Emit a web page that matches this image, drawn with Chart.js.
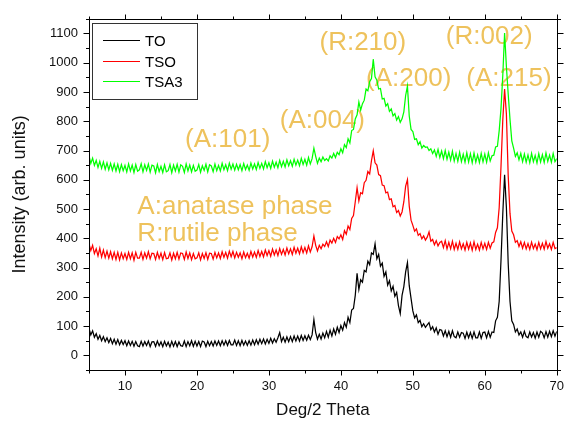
<!DOCTYPE html>
<html><head><meta charset="utf-8">
<script src="https://cdn.jsdelivr.net/npm/chart.js@4.4.0/dist/chart.umd.min.js"></script>
<style>html,body{margin:0;padding:0;background:#fff;}#wrap{width:573px;height:421px;}</style>
</head><body><div id="wrap"><canvas id="c" width="573" height="421"></canvas></div>
<script>
// 2-theta sampling grid (deg)
const twoTheta = [
5,5.25,5.5,5.75, 6,6.25,6.5,6.75, 7,7.25,7.5,7.75, 8,8.25,8.5,8.75, 9,9.25,9.5,9.75,
10,10.25,10.5,10.75, 11,11.25,11.5,11.75, 12,12.25,12.5,12.75, 13,13.25,13.5,13.75, 14,14.25,14.5,14.75,
15,15.25,15.5,15.75, 16,16.25,16.5,16.75, 17,17.25,17.5,17.75, 18,18.25,18.5,18.75, 19,19.25,19.5,19.75,
20,20.25,20.5,20.75, 21,21.25,21.5,21.75, 22,22.25,22.5,22.75, 23,23.25,23.5,23.75, 24,24.25,24.5,24.75,
25,25.25,25.5,25.75, 26,26.25,26.5,26.75, 27,27.25,27.5,27.75, 28,28.25,28.5,28.75, 29,29.25,29.5,29.75,
30,30.25,30.5,30.75, 31,31.25,31.5,31.75, 32,32.25,32.5,32.75, 33,33.25,33.5,33.75, 34,34.25,34.5,34.75,
35,35.25,35.5,35.75, 36,36.25,36.5,36.75, 37,37.25,37.5,37.75, 38,38.25,38.5,38.75, 39,39.25,39.5,39.75,
40,40.25,40.5,40.75, 41,41.25,41.5,41.75, 42,42.25,42.5,42.75, 43,43.25,43.5,43.75, 44,44.25,44.5,44.75,
45,45.25,45.5,45.75, 46,46.25,46.5,46.75, 47,47.25,47.5,47.75, 48,48.25,48.5,48.75, 49,49.25,49.5,49.75,
50,50.25,50.5,50.75, 51,51.25,51.5,51.75, 52,52.25,52.5,52.75, 53,53.25,53.5,53.75, 54,54.25,54.5,54.75,
55,55.25,55.5,55.75, 56,56.25,56.5,56.75, 57,57.25,57.5,57.75, 58,58.25,58.5,58.75, 59,59.25,59.5,59.75,
60,60.25,60.5,60.75, 61,61.25,61.5,61.75, 62,62.25,62.5,62.75, 63,63.25,63.5,63.75, 64,64.25,64.5,64.75,
65,65.25,65.5,65.75, 66,66.25,66.5,66.75, 67,67.25,67.5,67.75, 68,68.25,68.5,68.75, 69,69.25,69.5,69.75,
70];

const seriesNames = ['TO', 'TSO', 'TSA3'];

const TO = [
92,70,84,62, 74,55,68,50, 64,47,60,44, 58,40,55,38, 54,36,51,37,
50,33,49,34, 48,31,47,33, 30,48,32,47, 34,49,30,46, 47,31,49,33,
46,30,48,32, 45,29,48,31, 47,30,46,33, 31,49,30,47, 33,50,31,48,
32,47,30,49, 46,30,48,33, 47,32,49,34, 49,33,50,35, 50,34,51,36,
36,52,34,50, 33,51,35,49, 34,50,35,52, 36,53,38,55, 40,56,39,55,
41,58,42,57, 45,60,78,47, 62,45,63,47, 64,47,66,49, 66,49,68,51,
67,52,69,54, 70,122,78,55, 72,56,76,60, 82,62,86,66, 90,72,96,78,
102,86,112,96, 130,112,155,160, 205,280,225,258, 250,290,285,322, 310,350,345,381,
330,345,305,315, 270,285,240,255, 220,236,202,215, 170,143,205,235, 285,317,238,195,
152,128,138,112, 120,98,108,96, 104,112,88,98, 80,94,72,88, 86,66,84,64,
82,62,84,64, 60,80,62,78, 76,58,79,60, 78,58,80,60, 60,80,58,78,
80,60,82,62, 80,78,118,130, 185,325,485,617, 505,315,185,118, 106,80,90,70,
80,62,82,64, 60,80,63,78, 59,80,62,82, 77,60,81,62, 82,64,84,66,
82];

const TSO = [
382,358,376,348, 364,340,366,336, 360,334,356,332, 354,330,352,328, 352,326,350,330,
348,328,352,330, 350,325,352,332, 332,352,328,350, 332,354,330,349, 348,328,352,331,
349,327,351,330, 332,350,326,349, 330,352,329,350, 348,328,353,331, 350,327,348,330,
333,350,326,348, 331,351,328,349, 348,329,352,333, 350,331,354,335, 352,332,356,337,
355,333,352,335, 350,330,353,334, 349,332,355,336, 353,335,358,338, 355,337,360,341,
358,339,363,343, 360,341,365,345, 362,343,367,347, 364,345,369,349, 366,347,371,351,
369,350,374,353, 371,408,376,357, 376,364,380,372, 388,372,394,384, 400,386,406,398,
412,396,426,414, 442,430,468,478, 525,573,528,556, 552,590,598,628, 620,665,699,658,
650,618,614,582, 580,555,558,532, 535,508,512,488, 495,476,490,525, 578,600,510,462,
444,424,432,410, 416,398,408,394, 404,422,390,396, 378,392,374,386, 390,368,392,364,
386,364,390,362, 383,362,388,364, 381,360,386,363, 384,359,388,362, 380,360,386,364,
383,362,386,366, 384,388,420,436, 505,645,805,910, 825,615,485,425, 412,386,392,372,
388,366,386,364, 382,362,387,365, 380,361,386,364, 383,363,389,366, 381,362,386,365,
368];

const TSA3 = [
682,656,674,649, 666,642,663,639, 661,636,658,634, 656,632,654,630, 653,628,652,631,
649,627,654,630, 650,625,652,629, 634,655,627,651, 632,654,626,650, 647,624,652,628,
646,625,651,627, 631,652,624,650, 630,653,626,651, 646,625,654,630, 650,627,649,629,
633,652,626,648, 632,653,627,651, 647,628,654,631, 649,630,656,634, 651,631,657,636,
654,633,653,634, 652,631,655,635, 650,632,657,637, 654,635,659,639, 656,637,662,641,
658,639,664,643, 660,641,666,645, 663,644,668,648, 665,646,670,650, 667,648,673,652,
670,650,676,654, 672,708,680,656, 674,662,678,666, 672,664,682,674, 690,676,694,686,
706,692,720,710, 740,726,768,772, 808,822,866,838, 860,872,910,904, 935,946,1012,952,
940,910,912,876, 878,852,860,834, 842,818,826,804, 816,796,808,832, 888,920,818,772,
765,738,740,720, 730,708,717,711, 712,700,706,690, 702,680,704,676, 698,672,700,670,
694,667,697,664, 690,663,694,662, 687,660,692,661, 689,658,691,660, 685,659,690,661,
688,660,692,664, 682,684,712,714, 768,843,957,1101, 987,893,807,733, 708,680,692,668,
690,662,688,660, 685,658,690,662, 683,657,689,661, 686,659,692,663, 684,660,690,662,
672];

const peakLabels = ['(A:101)', '(A:004)', '(R:210)', '(A:200)', '(R:002)', '(A:215)'];
const phaseNotes = ['A:anatase phase', 'R:rutile phase'];
const xTitle = 'Deg/2 Theta';
const yTitle = 'Intensity (arb. units)';

// label anchor positions in data coordinates (deg, intensity)
const peakLabelAt = [[24.27,737],[37.43,803],[43.05,1067],[49.43,946],[60.61,1089],[63.35,946]];
const phaseNoteAt = [[11.72,484],[11.72,392]];

const FONT = '"Liberation Sans", Arial, Helvetica, sans-serif';
const GOLD = 'rgb(238,194,92)';
const colors = ['#000000', '#ff0000', '#00ff00'];
const seriesData = [TO, TSO, TSA3];

const annotate = {
  id: 'annotate',
  beforeDatasetsDraw(chart) {
    const {ctx, scales: {x, y}} = chart;
    ctx.save();
    ctx.fillStyle = GOLD;
    ctx.font = '26px ' + FONT;
    ctx.textAlign = 'center';
    ctx.textBaseline = 'middle';
    peakLabels.forEach((t, i) => {
      ctx.fillText(t, x.getPixelForValue(peakLabelAt[i][0]), y.getPixelForValue(peakLabelAt[i][1]));
    });
    ctx.textAlign = 'left';
    ctx.textBaseline = 'alphabetic';
    phaseNotes.forEach((t, i) => {
      ctx.fillText(t, x.getPixelForValue(phaseNoteAt[i][0]), y.getPixelForValue(phaseNoteAt[i][1]));
    });
    ctx.restore();
  }
};

const frameTicks = {
  id: 'frameTicks',
  afterDatasetsDraw(chart) {
    const {ctx, chartArea: a, scales: {x, y}} = chart;
    ctx.save();
    ctx.strokeStyle = '#000';
    ctx.lineWidth = 1;
    const L = Math.round(a.left) + 0.5, R = Math.round(a.right) + 0.5;
    const T = Math.round(a.top) + 0.5, B = Math.round(a.bottom) + 0.5;
    ctx.strokeRect(L, T, R - L, B - T);
    ctx.beginPath();
    y.ticks.forEach(t => {
      const p = Math.round(y.getPixelForValue(t.value)) + 0.5;
      const len = (t.value % 100 === 0) ? 6 : 3.5;
      ctx.moveTo(L, p); ctx.lineTo(L - len, p);
      ctx.moveTo(R, p); ctx.lineTo(R + len, p);
    });
    x.ticks.forEach(t => {
      const p = Math.round(x.getPixelForValue(t.value)) + 0.5;
      const len = (t.value % 10 === 0) ? 5 : 3;
      ctx.moveTo(p, B); ctx.lineTo(p, B + len);
      ctx.moveTo(p, T); ctx.lineTo(p, T - len);
    });
    ctx.stroke();
    ctx.restore();
  }
};

const boxLegend = {
  id: 'boxLegend',
  afterDraw(chart) {
    const {ctx, chartArea: a} = chart;
    const x0 = Math.round(a.left) + 3, y0 = Math.round(a.top) + 4;
    ctx.save();
    ctx.strokeStyle = '#333';
    ctx.lineWidth = 1;
    ctx.strokeRect(x0 + 0.5, y0 + 0.5, 105, 76);
    ctx.font = '15px ' + FONT;
    ctx.textBaseline = 'middle';
    ctx.textAlign = 'left';
    chart.data.datasets.forEach((ds, i) => {
      const yy = Math.round(y0 + 17 + i * 20.5) + 0.5;
      ctx.strokeStyle = ds.borderColor;
      ctx.lineWidth = 1;
      ctx.beginPath();
      ctx.moveTo(x0 + 11, yy); ctx.lineTo(x0 + 48, yy);
      ctx.stroke();
      ctx.fillStyle = '#000';
      ctx.fillText(ds.label, x0 + 53, yy + 1);
    });
    ctx.restore();
  }
};

new Chart(document.getElementById('c'), {
  type: 'line',
  data: {
    datasets: seriesNames.map((name, k) => ({
      label: name,
      data: twoTheta.map((t, i) => ({x: t, y: seriesData[k][i]})),
      borderColor: colors[k],
      backgroundColor: colors[k],
      borderWidth: 1.25,
      pointRadius: 0,
      tension: 0,
      fill: false
    }))
  },
  options: {
    responsive: false,
    animation: false,
    devicePixelRatio: 1,
    layout: {padding: {top: 17, right: 10, left: 0, bottom: 0}},
    plugins: {legend: {display: false}, tooltip: {enabled: false}},
    scales: {
      x: {
        type: 'linear', min: 5, max: 70,
        grid: {display: false, drawTicks: false},
        border: {display: false},
        ticks: {stepSize: 5, autoSkip: false, maxRotation: 0, padding: 9,
          color: '#111', font: {family: FONT, size: 13},
          callback: v => (v % 10 === 0 ? String(v) : '')},
        title: {display: true, text: xTitle, color: '#111',
          font: {family: FONT, size: 17}, padding: {top: 0, bottom: 0}},
        afterFit: s => { s.height = 51; }
      },
      y: {
        type: 'linear', min: -50, max: 1150,
        grid: {display: false, drawTicks: false},
        border: {display: false},
        ticks: {stepSize: 50, autoSkip: false, padding: 11,
          color: '#111', font: {family: FONT, size: 13},
          callback: v => (v % 100 === 0 && v >= 0 ? String(v) : '')},
        title: {display: true, text: yTitle, color: '#111',
          font: {family: FONT, size: 18}, padding: {top: 9, bottom: 0}},
        afterFit: s => { s.width = 89; }
      }
    }
  },
  plugins: [annotate, frameTicks, boxLegend]
});
</script>
</body></html>
